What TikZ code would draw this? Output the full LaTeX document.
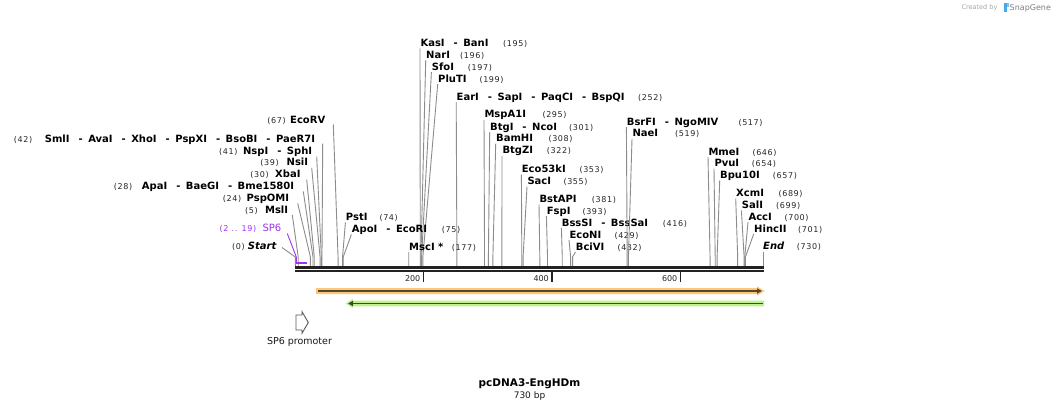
\documentclass[tikz,border=0pt]{standalone}
\usepackage{fontspec}
\usetikzlibrary{arrows.meta}
\setmainfont{DejaVu Sans}
\newfontfamily\enzfont{DejaVu Sans}
\newfontfamily\numfont[LetterSpace=8]{DejaVu Sans}
\newcommand\sepr{\hspace{9pt}-\hspace{5.5pt}}
\definecolor{leadc}{RGB}{140,140,140}
\definecolor{bbc}{RGB}{34,34,34}
\definecolor{sixc}{RGB}{160,50,240}
\definecolor{orfill}{RGB}{250,200,120}
\definecolor{orline}{RGB}{85,70,45}
\definecolor{grfill}{RGB}{190,242,140}
\definecolor{grline}{RGB}{55,75,45}
\definecolor{sgblue}{RGB}{70,170,230}
\begin{document}
\begin{tikzpicture}[x=1pt,y=-1pt,
  enz/.style={font={\fontsize{10}{12}\enzfont\bfseries},inner sep=0pt,anchor=base west},
  enzit/.style={font={\fontsize{10}{12}\enzfont\bfseries\itshape},inner sep=0pt},
  num/.style={font={\fontsize{8}{9}\numfont},text=black!85,inner sep=0pt,anchor=base west},
  lead/.style={draw=leadc,line width=0.9pt},
  plain/.style={inner sep=0pt}]
\useasboundingbox[fill=white] (0,0) rectangle (1059,412);

% right-side labels
\foreach \i/\nx/\cy/\nm/\mx/\bp in {
 r1/420.3/43/{KasI\sepr BanI}/503/195,
 r2/426/54.8/{NarI}/460/196,
 r3/431.7/66.6/{SfoI}/467.7/197,
 r4/438/78.7/{PluTI}/479.3/199,
 r5/456.5/96.5/{EarI\sepr SapI\sepr PaqCI\sepr BspQI}/638/252,
 r6/484.3/114.3/{MspA1I}/542.3/295,
 r7/490/126.5/{BtgI\sepr NcoI}/569/301,
 r8/496/138.2/{BamHI}/548.3/308,
 r9/502.3/150.3/{BtgZI}/546.7/322,
 r10/521.7/169/{Eco53kI}/579.3/353,
 r11/527.3/181/{SacI}/563.3/355,
 r12/539.3/199/{BstAPI}/591.7/381,
 r13/546.7/210.7/{FspI}/582.3/393,
 r14/561.7/222.5/{BssSI\sepr BssSaI}/662.7/416,
 r15/569.3/234.5/{EcoNI}/614.3/429,
 r16/575.7/246.5/{BciVI}/617.3/432,
 r17/345.7/217/{PstI}/379.3/74,
 r18/351.7/229/{ApoI\sepr EcoRI}/441.7/75,
 r19/409/246.7/{MscI *}/451.7/177,
 r20/626.7/121.7/{BsrFI\sepr NgoMIV}/738.3/517,
 r21/632.3/133.3/{NaeI}/675/519,
 r22/708.3/151.5/{MmeI}/752.3/646,
 r23/714.3/163.2/{PvuI}/751.7/654,
 r24/720/175/{Bpu10I}/772.7/657,
 r25/736/193/{XcmI}/778.3/689,
 r26/741.7/205/{SalI}/776/699,
 r27/748.3/216.7/{AccI}/784.3/700,
 r28/754/228.5/{HincII}/798/701}{
  \node[enz] (n\i) at (\nx,{\cy+3.6}) {\nm};
  \node[num] (m\i) at (\mx,{\cy+3.6}) {(\bp)};
  \coordinate (l\i) at ({\nx-0.3},{\cy+5.5});
  \coordinate (t\i) at ({295+\bp*0.6425},257);
  \coordinate (s\i) at ({295+\bp*0.6425},266);
  \draw[lead] (l\i) -- (t\i) -- (s\i);
}

% left-side labels
\foreach \i/\ex/\cy/\nm/\mx/\num/\bp/\lx/\ly in {
 q1/325.5/120.3/{EcoRV}/286/67/67/333.3/124.5,
 q2/315.3/138.5/{SmlI\sepr AvaI\sepr XhoI\sepr PspXI\sepr BsoBI\sepr PaeR7I}/32.4/42/42/322.7/143.5,
 q3/312.3/150.5/{NspI\sepr SphI}/237.7/41/41/316.7/156.5,
 q4/308.3/162.2/{NsiI}/279/39/39/311.7/168,
 q5/300.7/174/{XbaI}/269/30/30/306.7/179.5,
 q6/294.3/186/{ApaI\sepr BaeGI\sepr Bme1580I}/132.4/28/28/303.3/191.5,
 q7/289.3/198/{PspOMI}/241.4/24/24/297.7/203.3,
 q8/288.3/210/{MslI}/258/5/5/292.3/215}{
  \node[enz,anchor=base east] (n\i) at (\ex,{\cy+3.6}) {\nm};
  \node[num,anchor=base east] (m\i) at (\mx,{\cy+3.6}) {(\num)};
  \coordinate (l\i) at (\lx,\ly);
  \coordinate (t\i) at ({295+\bp*0.6425},257);
  \coordinate (s\i) at ({295+\bp*0.6425},266);
  \draw[lead] (l\i) -- (t\i) -- (s\i);
}

% Start / End
\node[enzit,anchor=base east] (nstart) at (276.5,249.6) {Start};
\node[num,anchor=base east] (mstart) at (245,249.6) {(0)};
\coordinate (lstart) at (282,247.5);
\coordinate (tstart) at (295.3,257);
\coordinate (sstart) at (295.3,266);
\draw[lead] (lstart) -- (tstart) -- (sstart);
\node[enzit,anchor=base west] (nend) at (763,249.6) {End};
\node[num] (mend) at (796.7,249.6) {(730)};
\coordinate (lend) at (763.6,251.5);
\coordinate (send) at (763.6,266);
\draw[lead] (lend) -- (send);

% SP6 feature
\node[font={\fontsize{10}{12}\selectfont},text=sixc,inner sep=0pt,anchor=base east] (nsp6) at (281.5,231.9) {SP6};
\node[font={\fontsize{8}{9}\numfont},text=sixc,inner sep=0pt,anchor=base east] (msp6) at (256.4,231.9) {(2 .. 19)};
\coordinate (lsp6) at (287.3,233.5);
\coordinate (tsp6) at (296.3,257);
\coordinate (asp6) at (296.3,262.7);
\coordinate (bsp6) at (307.2,262.7);
\draw[draw=sixc,line width=0.9pt] (lsp6) -- (tsp6) -- (asp6);
\draw[draw=sixc,line width=2pt] (asp6) -- (bsp6);

% backbone
\coordinate (bb1) at (295,267.3);
\coordinate (bb2) at (764,267.3);
\coordinate (bb3) at (295,271);
\coordinate (bb4) at (764,271);
\draw[bbc,line width=2.7pt] (bb1) -- (bb2);
\draw[bbc,line width=2.6pt] (bb3) -- (bb4);

% ticks
\foreach \v in {200,400,600}{
  \coordinate (tk\v) at ({295+\v*0.6425},272);
  \coordinate (tl\v) at ({295+\v*0.6425},281.5);
  \draw[bbc,line width=1.6pt] (tk\v) -- (tl\v);
  \node[font={\fontsize{8}{9}\selectfont},text=black!85,inner sep=0pt,anchor=base east] (lab\v) at ({292+\v*0.6425},281) {\v};
}

% orange forward feature
\fill[orfill] (316,288) -- (757,288) -- (757,286.3) -- (764.5,291) -- (757,295.7) -- (757,294) -- (316,294) -- cycle;
\coordinate (oa) at (318,291);
\coordinate (ob) at (762,291);
\draw[orline,line width=1.7pt,-{Triangle[length=5pt,width=5pt]}] (oa) -- (ob);

% green reverse feature
\fill[grfill] (764,300.6) -- (353,300.6) -- (353,298.8) -- (345.5,303.5) -- (353,308.2) -- (353,306.4) -- (764,306.4) -- cycle;
\coordinate (ga) at (762.5,303.5);
\coordinate (gb) at (348,303.5);
\draw[grline,line width=1.7pt,-{Triangle[length=5pt,width=5pt]}] (ga) -- (gb);

% SP6 promoter
\draw[draw=black!65,line width=0.9pt,fill=white] (296,315) -- (302,315) -- (302,311.7) -- (308.3,322.5) -- (302,333.3) -- (302,330) -- (296,330) -- cycle;
\node[font={\fontsize{9.5}{11}\selectfont},text=black!90,plain] (prom) at (299.5,342) {SP6 promoter};

% title
\node[font={\fontsize{10.5}{12}\selectfont\bfseries},plain] (title) at (529.5,383.5) {pcDNA3-EngHDm};
\node[font={\fontsize{9}{11}\selectfont},plain,text=black!90] (bp) at (529.5,396) {730 bp};

% watermark
\node[font={\fontsize{6.5}{8}\selectfont},text=black!35,plain] (cr) at (979.5,8) {Created by};
\fill[sgblue] (1003.5,3.5) rectangle (1006.5,12.5);
\fill[sgblue!70] (1006.5,3.5) rectangle (1008.5,7.5);
\node[font={\fontsize{8}{9}\selectfont},text=black!50,plain,anchor=west] (sg) at (1009.5,8) {SnapGene};
\end{tikzpicture}
\end{document}
